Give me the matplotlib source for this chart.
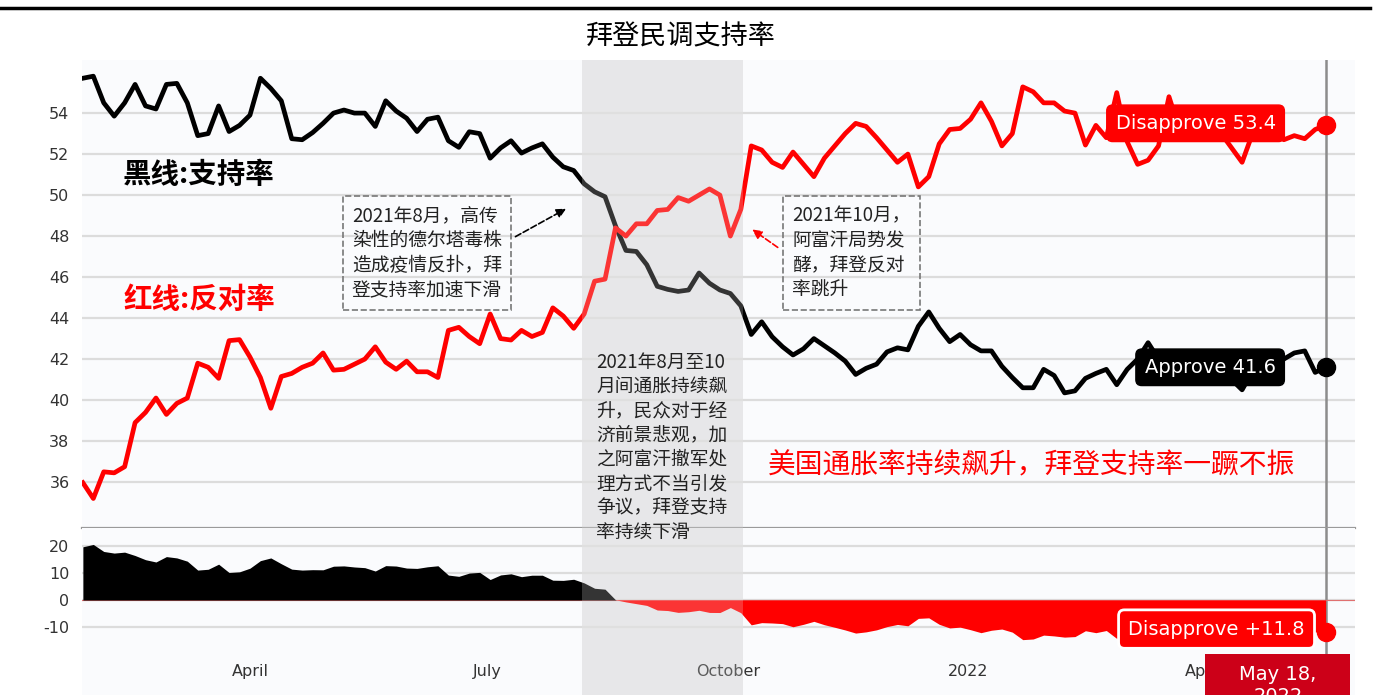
import numpy as np
import pandas as pd
import matplotlib
matplotlib.use('Agg')
import matplotlib.pyplot as plt
from matplotlib.lines import Line2D
from matplotlib.patches import Rectangle

plt.rcParams['font.family'] = ['DejaVu Sans', 'Noto Sans CJK SC']
plt.rcParams['axes.unicode_minus'] = False
CJK = ['Noto Sans CJK SC', 'DejaVu Sans']

# 数据：每4天一个点，2021-01-27 到 2022-05-18
start_date = '2021-01-27'
approve = [55.7, 55.8, 54.5, 53.85, 54.5, 55.4, 54.35, 54.2, 55.4, 55.45,
           54.5, 52.9, 53.0, 54.35, 53.1, 53.4, 53.9, 55.7, 55.2, 54.6,
           52.75, 52.7, 53.05, 53.5, 54.0, 54.15, 54.0, 54.0, 53.35, 54.6,
           54.1, 53.75, 53.1, 53.7, 53.8, 52.65, 52.33, 53.09, 53.0, 51.8,
           52.3, 52.65, 52.05, 52.3, 52.5, 51.85, 51.38, 51.2, 50.55, 50.16,
           49.92, 48.5, 47.3, 47.25, 46.6, 45.55, 45.4, 45.3, 45.37, 46.2,
           45.7, 45.37, 45.2, 44.6, 43.2, 43.82, 43.09, 42.6, 42.2, 42.5,
           43.0, 42.65, 42.3, 41.9, 41.25, 41.55, 41.75, 42.35, 42.55, 42.45,
           43.6, 44.3, 43.5, 42.85, 43.2, 42.7, 42.4, 42.4, 41.65, 41.1,
           40.6, 40.6, 41.5, 41.2, 40.35, 40.45, 41.06, 41.3, 41.5, 40.75,
           41.5, 42.0, 42.8, 42.0, 40.9, 41.5, 41.8, 40.9, 41.6, 41.9,
           41.0, 40.5, 41.4, 41.8, 41.7, 42.0, 42.3, 42.4, 41.35, 41.6]
disapprove = [35.97, 35.2, 36.5, 36.45, 36.75, 38.9, 39.4, 40.1, 39.3, 39.84,
              40.1, 41.8, 41.6, 41.06, 42.9, 42.95, 42.1, 41.1, 39.6, 41.15,
              41.3, 41.6, 41.8, 42.3, 41.46, 41.5, 41.75, 42.0, 42.6, 41.85,
              41.5, 41.9, 41.38, 41.38, 41.1, 43.4, 43.55, 43.1, 42.75, 44.2,
              43.0, 42.93, 43.4, 43.1, 43.3, 44.5, 44.1, 43.5, 44.2, 45.8,
              45.9, 48.4, 48.0, 48.6, 48.6, 49.25, 49.3, 49.88, 49.7, 50.0,
              50.3, 50.0, 48.0, 49.3, 52.4, 52.2, 51.6, 51.35, 52.1, 51.5,
              50.9, 51.8, 52.4, 53.0, 53.5, 53.35, 52.8, 52.2, 51.6, 52.0,
              50.4, 50.9, 52.5, 53.2, 53.25, 53.7, 54.5, 53.6, 52.4, 53.0,
              55.28, 55.04, 54.5, 54.5, 54.1, 54.0, 52.44, 53.4, 52.8, 55.0,
              52.6, 51.5, 51.7, 52.4, 54.8, 53.2, 53.5, 53.0, 53.4, 53.0,
              52.3, 51.6, 53.0, 53.1, 53.2, 52.7, 52.9, 52.75, 53.2, 53.4]
dates = pd.date_range(start_date, periods=len(approve), freq='4D')
diff = np.array(approve) - np.array(disapprove)

band_start, band_end = pd.Timestamp('2021-08-06'), pd.Timestamp('2021-10-07')
x_ticks = ['2021-04-01', '2021-07-01', '2021-10-01', '2022-01-01', '2022-04-01']
x_labels = ['April', 'July', 'October', '2022', 'April']
y_ticks_main = list(range(36, 55, 2))
y_ticks_diff = [20, 10, 0, -10]

W, H = 1376, 695
def fx(p): return p / W
def fy(p): return 1 - p / H

fig = plt.figure(figsize=(13.76, 6.95), dpi=100)
ax = fig.add_axes([fx(82), fy(528), fx(1355) - fx(82), fy(60) - fy(528)])
ax2 = fig.add_axes([fx(82), 0, fx(1355) - fx(82), fy(528)], sharex=ax)

for a in (ax, ax2):
    a.set_facecolor('#fafbfd')
    for s in a.spines.values():
        s.set_visible(False)
    a.set_axisbelow(True)
    a.yaxis.grid(True, color='#dcdcdc', lw=1.6)
    a.tick_params(axis='y', length=0, labelsize=11.5, labelcolor='#333333', pad=9)
    a.axvspan(band_start, band_end, color='#e6e6e8', zorder=0.2, lw=0)
    a.axvspan(band_start, band_end, color='#eeeeee', alpha=0.22, zorder=4, lw=0)
    a.axvline(dates[-1], color='#8c8c8c', lw=1.8, zorder=2)

ax.spines['bottom'].set_visible(True)
ax.spines['bottom'].set_color('#9a9a9a')
ax.spines['bottom'].set_linewidth(1.6)

# 主图
ax.plot(dates, approve, color='black', lw=3.4, zorder=3)
ax.plot(dates, disapprove, color='#ff0000', lw=3.4, zorder=3)
ax.plot(dates[-1], approve[-1], 'o', color='black', ms=13, zorder=6)
ax.plot(dates[-1], disapprove[-1], 'o', color='#ff0000', ms=13, zorder=6)
ax.set_ylim(33.76, 56.59)
ax.set_yticks(y_ticks_main)
ax.tick_params(axis='x', labelbottom=False, length=0)
ax.set_xlim(pd.Timestamp('2021-01-26 16:00'), pd.Timestamp('2022-05-29 06:00'))

ax.annotate(f'Disapprove {disapprove[-1]:.1f}', xy=(dates[-1], disapprove[-1]),
            xytext=(-36, 1.5), textcoords='offset points', ha='right', va='center',
            color='white', fontsize=14, zorder=7,
            bbox=dict(boxstyle='round,pad=0.45,rounding_size=0.3', fc='#ff0000', ec='#ff0000'))
ax.annotate(f'Approve {approve[-1]:.1f}', xy=(dates[-1], approve[-1]),
            xytext=(-36, 0), textcoords='offset points', ha='right', va='center',
            color='white', fontsize=14, zorder=7,
            bbox=dict(boxstyle='round,pad=0.45,rounding_size=0.3', fc='black', ec='black'))

# 差值图
ax2.fill_between(dates, diff, 0, where=diff >= 0, interpolate=True, color='black', lw=0, zorder=3)
ax2.fill_between(dates, diff, 0, where=diff <= 0, interpolate=True, color='#ff0000', lw=0, zorder=3)
ax2.axhline(0, color='#e07070', lw=0.8, zorder=2)
ax2.plot(dates[-1], diff[-1], 'o', color='#ff0000', ms=13, zorder=6)
ax2.set_ylim(-35.2, 26.7)
ax2.set_yticks(y_ticks_diff)
ax2.set_xticks([pd.Timestamp(t) for t in x_ticks])
ax2.set_xticklabels(x_labels)
ax2.tick_params(axis='x', length=0, pad=-22, labelsize=11.5, labelcolor='#333333')
ax2.annotate(f'Disapprove +{-diff[-1]:.1f}', xy=(dates[-1], diff[-1]),
             xytext=(-15, 2), textcoords='offset points', ha='right', va='center',
             color='white', fontsize=14, zorder=7,
             bbox=dict(boxstyle='round,pad=0.5,rounding_size=0.3', fc='#ff0000', ec='white', lw=2))

# 日期框（底部被裁切，与原图一致）
fig.add_artist(Rectangle((fx(1205), 0), fx(1350) - fx(1205), fy(654), transform=fig.transFigure,
                         fc='#cc0018', ec='none', zorder=8))
fig.text(fx(1278), fy(675), 'May 18,', ha='center', va='center', color='white', fontsize=14, zorder=9)
fig.text(fx(1278), fy(697), '2022', ha='center', va='center', color='white', fontsize=14, zorder=9)

# 标题和顶线
fig.add_artist(Line2D([0, fx(1370)], [fy(8), fy(8)], color='black', lw=2.5))
fig.text(fx(681), fy(37), '拜登民调支持率', ha='center', va='center', fontsize=19.5, family=CJK)

# 注释
fig.text(fx(123), fy(175), '黑线:支持率', ha='left', va='center', fontsize=20.5, family=CJK, weight='bold')
fig.text(fx(123), fy(300), '红线:反对率', ha='left', va='center', fontsize=20.5, family=CJK,
         weight='bold', color='#ff0000')

box = dict(boxstyle='square,pad=0.5', fc='none', ec='#777777', ls='--', lw=1.2)
fig.text(fx(352), fy(205), '2021年8月，高传\n染性的德尔塔毒株\n造成疫情反扑，拜\n登支持率加速下滑',
         ha='left', va='top', fontsize=13.5, linespacing=1.25, family=CJK, color='#222222', bbox=box)
fig.text(fx(792), fy(205), '2021年10月，\n阿富汗局势发\n酵，拜登反对\n率跳升',
         ha='left', va='top', fontsize=13.5, linespacing=1.25, family=CJK, color='#222222', bbox=box)
fig.text(fx(596), fy(352), '2021年8月至10\n月间通胀持续飙\n升，民众对于经\n济前景悲观，加\n之阿富汗撤军处\n理方式不当引发\n争议，拜登支持\n率持续下滑',
         ha='left', va='top', fontsize=13.5, linespacing=1.2, family=CJK, color='#222222', zorder=10)
fig.text(fx(768), fy(465), '美国通胀率持续飙升，拜登支持率一蹶不振', ha='left', va='center',
         fontsize=20, family=CJK, color='#ff0000')

ax.annotate('', xy=(pd.Timestamp('2021-08-01'), 49.4), xytext=(fx(513), fy(238)),
            textcoords='figure fraction',
            arrowprops=dict(arrowstyle='-|>', ls='--', color='black', lw=1.2, mutation_scale=14))
ax.annotate('', xy=(pd.Timestamp('2021-10-09 12:00'), 48.4), xytext=(fx(780), fy(249)),
            textcoords='figure fraction',
            arrowprops=dict(arrowstyle='-|>', ls='--', color='#ff0000', lw=1.2, mutation_scale=14))

fig.savefig('out.png', dpi=100)
